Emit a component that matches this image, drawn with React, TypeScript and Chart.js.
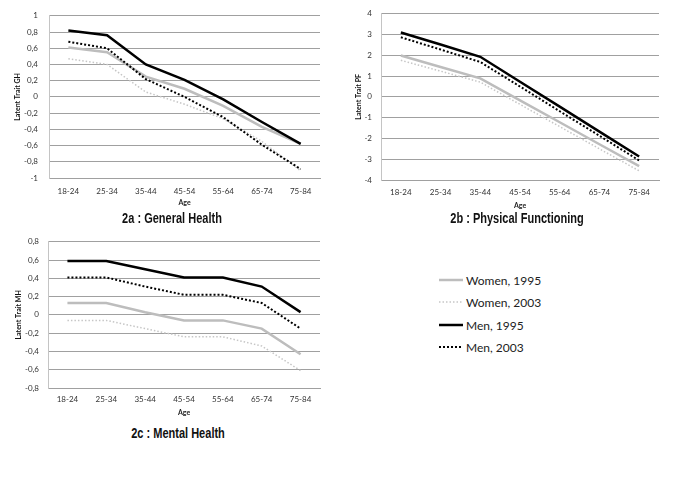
import React, { useEffect, useRef } from 'react';
import { Chart, registerables } from 'chart.js';

Chart.register(...registerables);

const ageGroups = ['18-24', '25-34', '35-44', '45-54', '55-64', '65-74', '75-84'];
const seriesNames = ['Women, 1995', 'Women, 2003', 'Men, 1995', 'Men, 2003'];

// 2a: General Health
const ghWomen1995 = [0.61, 0.55, 0.25, 0.1, -0.11, -0.37, -0.58];
const ghWomen2003 = [0.47, 0.4, 0.06, -0.09, -0.27, -0.55, -0.91];
const ghMen1995 = [0.82, 0.76, 0.4, 0.21, -0.03, -0.31, -0.58];
const ghMen2003 = [0.68, 0.6, 0.22, 0.0, -0.25, -0.59, -0.89];

// 2b: Physical Functioning
const pfWomen1995 = [1.99, 1.44, 0.89, -0.17, -1.22, -2.28, -3.33];
const pfWomen2003 = [1.76, 1.24, 0.71, -0.36, -1.43, -2.5, -3.56];
const pfMen1995 = [3.1, 2.52, 1.93, 0.73, -0.47, -1.67, -2.87];
const pfMen2003 = [2.87, 2.28, 1.68, 0.5, -0.69, -1.87, -3.06];

// 2c: Mental Health
const mhWomen1995 = [0.13, 0.13, 0.03, -0.06, -0.06, -0.15, -0.43];
const mhWomen2003 = [-0.06, -0.06, -0.15, -0.24, -0.24, -0.34, -0.61];
const mhMen1995 = [0.59, 0.59, 0.5, 0.41, 0.41, 0.31, 0.03];
const mhMen2003 = [0.41, 0.41, 0.31, 0.22, 0.22, 0.13, -0.15];

const tickFont = 'Lato, "Open Sans", sans-serif';

type Style = { color: string; width: number; dash: number[] };
const styles: Style[] = [
  { color: '#bdbdbd', width: 2.5, dash: [] },
  { color: '#c6c6c6', width: 1.5, dash: [1.5, 2] },
  { color: '#000000', width: 2.5, dash: [] },
  { color: '#000000', width: 2, dash: [2, 2] },
];

type PanelProps = {
  left: number;
  top: number;
  width: number;
  height: number;
  padTop: number;
  padRight: number;
  yWidth: number;
  xHeight: number;
  xTickPad: number;
  xTitlePadBottom: number;
  yTickPad: number;
  yTitlePadTop: number;
  min: number;
  max: number;
  step: number;
  yTitle: string;
  data: number[][];
};

function fmt(v: number): string {
  const r = Math.round(v * 10) / 10;
  return String(r === 0 ? 0 : r).replace('.', ',');
}

function Panel(p: PanelProps) {
  const ref = useRef<HTMLCanvasElement | null>(null);
  useEffect(() => {
    if (!ref.current) return;
    // draw order: men on top (dataset 0 drawn last)
    const order = [2, 3, 0, 1];
    const chart = new Chart(ref.current, {
      type: 'line',
      data: {
        labels: ageGroups,
        datasets: order.map((i) => ({
          label: seriesNames[i],
          data: p.data[i],
          borderColor: styles[i].color,
          borderWidth: styles[i].width,
          borderDash: styles[i].dash,
          borderCapStyle: 'butt' as const,
          borderJoinStyle: 'miter' as const,
          pointRadius: 0,
          tension: 0,
          fill: false,
        })),
      },
      options: {
        animation: false,
        responsive: false,
        maintainAspectRatio: false,
        layout: { padding: { top: p.padTop, right: p.padRight, left: 0, bottom: 0 } },
        plugins: { legend: { display: false }, tooltip: { enabled: false }, title: { display: false } },
        scales: {
          x: {
            type: 'category',
            offset: true,
            grid: { display: false, drawTicks: false },
            border: { display: true, color: '#a0a0a0', width: 1 },
            ticks: {
              color: '#333',
              font: { family: tickFont, size: 8 },
              padding: p.xTickPad,
              maxRotation: 0,
              autoSkip: false,
            },
            title: {
              display: true,
              text: 'Age',
              color: '#222',
              font: { family: tickFont, size: 7, weight: 'bold' },
              padding: { top: 0, bottom: p.xTitlePadBottom },
            },
            afterFit: (s: any) => {
              s.height = p.xHeight;
            },
          },
          y: {
            min: p.min,
            max: p.max,
            grid: { color: '#a0a0a0', lineWidth: 1, drawTicks: false },
            border: { display: true, color: '#c4c4c4', width: 1 },
            ticks: {
              stepSize: p.step,
              color: '#333',
              font: { family: tickFont, size: 8 },
              padding: p.yTickPad,
              callback: (v: any) => fmt(Number(v)),
            },
            title: {
              display: true,
              text: p.yTitle,
              color: '#111',
              font: { family: tickFont, size: 7, weight: 'bold' },
              padding: { top: p.yTitlePadTop, bottom: 0 },
            },
            afterFit: (s: any) => {
              s.width = p.yWidth;
            },
          },
        },
      },
    });
    return () => chart.destroy();
  }, []);
  return (
    <div style={{ position: 'absolute', left: p.left, top: p.top, width: p.width, height: p.height }}>
      <canvas ref={ref} width={p.width} height={p.height} style={{ width: p.width, height: p.height }} />
    </div>
  );
}

const titleStyle: React.CSSProperties = {
  position: 'absolute',
  transform: 'translate(-50%, -50%) scaleX(0.76)',
  whiteSpace: 'nowrap',
  fontFamily: '"Liberation Sans", Arial, sans-serif',
  fontWeight: 'bold',
  fontSize: 14.5,
  color: '#111',
  lineHeight: 1,
};

function LegendRow({ idx, y }: { idx: number; y: number }) {
  const s = styles[idx];
  return (
    <div style={{ position: 'absolute', left: 439, top: y - 9, height: 18, display: 'flex', alignItems: 'center' }}>
      <svg width={25} height={6} style={{ display: 'block' }}>
        <line
          x1={0}
          y1={3}
          x2={24}
          y2={3}
          stroke={s.color}
          strokeWidth={s.width}
          strokeDasharray={s.dash.length ? s.dash.join(',') : undefined}
        />
      </svg>
      <span style={{ fontFamily: tickFont, fontSize: 12, color: '#222', marginLeft: 2 }}>{seriesNames[idx]}</span>
    </div>
  );
}

export default function App() {
  return (
    <div style={{ position: 'absolute', left: 0, top: 0, width: 685, height: 479, background: '#fff' }}>
      <Panel
        left={0}
        top={0}
        width={330}
        height={210}
        padTop={11}
        padRight={10}
        yWidth={49}
        xHeight={32}
        xTickPad={9}
        xTitlePadBottom={3}
        yTickPad={11}
        yTitlePadTop={14}
        min={-1}
        max={1}
        step={0.2}
        yTitle="Latent Trait GH"
        data={[ghWomen1995, ghWomen2003, ghMen1995, ghMen2003]}
      />
      <Panel
        left={340}
        top={0}
        width={335}
        height={212}
        padTop={10}
        padRight={16}
        yWidth={41}
        xHeight={32}
        xTickPad={8}
        xTitlePadBottom={2}
        yTickPad={9}
        yTitlePadTop={15}
        min={-4}
        max={4}
        step={1}
        yTitle="Latent Trait PF"
        data={[pfWomen1995, pfWomen2003, pfMen1995, pfMen2003]}
      />
      <Panel
        left={0}
        top={228}
        width={330}
        height={192}
        padTop={11}
        padRight={10}
        yWidth={48}
        xHeight={32}
        xTickPad={7}
        xTitlePadBottom={3}
        yTickPad={9}
        yTitlePadTop={15}
        min={-0.8}
        max={0.8}
        step={0.2}
        yTitle="Latent Trait MH"
        data={[mhWomen1995, mhWomen2003, mhMen1995, mhMen2003]}
      />
      <div style={{ ...titleStyle, left: 172, top: 218 }}>2a : General Health</div>
      <div style={{ ...titleStyle, left: 517, top: 218 }}>2b : Physical Functioning</div>
      <div style={{ ...titleStyle, left: 178, top: 433 }}>2c : Mental Health</div>
      <LegendRow idx={0} y={280} />
      <LegendRow idx={1} y={302} />
      <LegendRow idx={2} y={325} />
      <LegendRow idx={3} y={347} />
    </div>
  );
}
